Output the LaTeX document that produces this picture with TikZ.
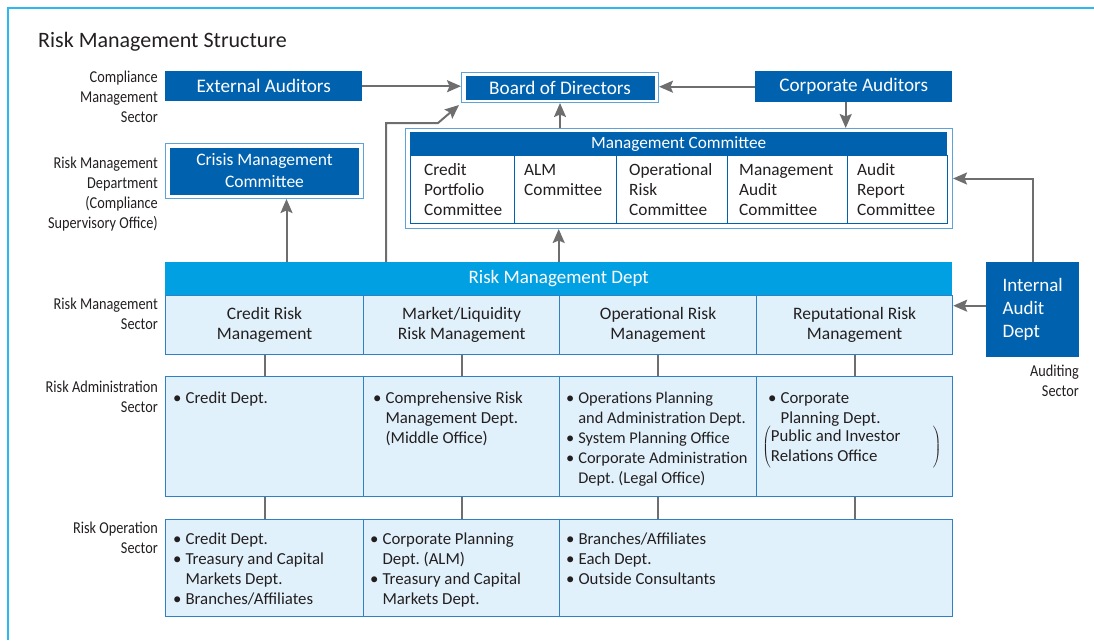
\documentclass[tikz,border=0pt]{standalone}
\usepackage{fontspec}
\setmainfont{Carlito}
\newfontfamily\narrowfont[FakeStretch=0.86]{Carlito}
\usetikzlibrary{arrows.meta,positioning}

\definecolor{darkblue}{HTML}{0062AE}
\definecolor{brightblue}{HTML}{00A0E2}
\definecolor{lightfill}{HTML}{E1F1FB}
\definecolor{cellline}{HTML}{2F80C4}
\definecolor{framelight}{HTML}{5BA3DA}
\definecolor{frameline}{HTML}{2DB8EE}
\definecolor{arrowgray}{HTML}{6E6E6E}
\definecolor{textgray}{HTML}{231F20}

\frenchspacing
% top-aligned text blocks
\newcommand{\blist}[1]{\begin{tabular}[t]{@{}l@{\hspace{4pt}}l@{}}#1\end{tabular}}
\newcommand{\lblock}[1]{\begin{tabular}[t]{@{}l@{}}#1\end{tabular}}
\newcommand{\rblock}[1]{\begin{tabular}[t]{@{}r@{}}#1\end{tabular}}

\tikzset{
  title/.style={anchor=base west, inner sep=0pt, text=textgray, font=\fontsize{22}{26}\selectfont},
  outerframe/.style={draw=framelight, line width=1pt, fill=white, inner sep=0pt, anchor=north west},
  darkbox/.style={fill=darkblue, text=white, inner sep=0pt, align=center, font=\fontsize{19.2}{22}\selectfont},
  headbox/.style={fill=brightblue, text=white, inner sep=0pt, anchor=north west, font=\fontsize{19}{20}\selectfont},
  mccell/.style={draw=darkblue, line width=1.2pt, fill=white, inner sep=0pt, anchor=north west},
  cell/.style={draw=cellline, line width=1.2pt, fill=lightfill, inner sep=0pt, anchor=north west, align=center, text=textgray, font=\fontsize{17.5}{20}\selectfont},
  celltext/.style={anchor=base west, inner sep=0pt, text=textgray, font=\fontsize{16.8}{20}\selectfont},
  sidelabel/.style={anchor=base east, inner sep=0pt, text=textgray, font=\narrowfont\fontsize{16.6}{20}\selectfont},
  link/.style={draw=arrowgray, line width=2pt},
  arr/.style={link, -{Stealth[length=14pt,width=12pt,inset=2.5pt]}}
}

\begin{document}
\begin{tikzpicture}[x=1pt, y=-1pt]
  \useasboundingbox (0,0) rectangle (1094,640);
  % outer frame
  \draw[frameline, line width=1.5pt] (8,640) -- (8,8) -- (1094,8);
  \node[title] (title) at (38,47) {Risk Management Structure};

  % side labels
  \node[sidelabel] (lcomp) at (158,82) {\rblock{Compliance\\Management\\Sector}};
  \node[sidelabel] (lrmd) at (158,168) {\rblock{Risk Management\\Department\\(Compliance\\Supervisory Office)}};
  \node[sidelabel] (lrms) at (158,309) {\rblock{Risk Management\\Sector}};
  \node[sidelabel] (lras) at (158,392) {\rblock{Risk Administration\\Sector}};
  \node[sidelabel] (lros) at (158,533) {\rblock{Risk Operation\\Sector}};
  \node[sidelabel] (laud) at (1079,376) {\rblock{Auditing\\Sector}};

  % top row
  \node[darkbox, anchor=north west, minimum width=197, minimum height=30] (ext) at (165,71) {External Auditors};
  \node[outerframe, minimum width=197, minimum height=30] (bodframe) at (461,72) {};
  \node[darkbox, minimum width=189, minimum height=24] (bod) at (bodframe.center) {Board of Directors};
  \node[darkbox, anchor=north west, minimum width=197, minimum height=31] (corp) at (755,71) {Corporate Auditors};

  % crisis management committee
  \node[outerframe, minimum width=198, minimum height=55] (cmcframe) at (165,143) {};
  \node[darkbox, minimum width=189, minimum height=47, font=\fontsize{17.5}{22}\selectfont] (cmc) at (cmcframe.center) {Crisis Management\\Committee};

  % management committee
  \node[outerframe, minimum width=547, minimum height=100] (mcframe) at (405,128) {};
  \node[darkbox, anchor=north west, minimum width=537, minimum height=23, font=\fontsize{17.2}{20}\selectfont] (mc) at (410,132) {Management Committee};
  \node[mccell, minimum width=104, minimum height=68] (mc1) at (410,155) {};
  \node[mccell, minimum width=102, minimum height=68] (mc2) at (514,155) {};
  \node[mccell, minimum width=111, minimum height=68] (mc3) at (616,155) {};
  \node[mccell, minimum width=120, minimum height=68] (mc4) at (727,155) {};
  \node[mccell, minimum width=100, minimum height=68] (mc5) at (847,155) {};
  \node[celltext, font=\fontsize{17.3}{20}\selectfont] (mct1) at ([shift={(14,20)}]mc1.north west) {\lblock{Credit\\Portfolio\\Committee}};
  \node[celltext, font=\fontsize{17.3}{20}\selectfont] (mct2) at ([shift={(10,20)}]mc2.north west) {\lblock{ALM\\Committee}};
  \node[celltext, font=\fontsize{17.3}{20}\selectfont] (mct3) at ([shift={(13,20)}]mc3.north west) {\lblock{Operational\\Risk\\Committee}};
  \node[celltext, font=\fontsize{17.3}{20}\selectfont] (mct4) at ([shift={(12,20)}]mc4.north west) {\lblock{Management\\Audit\\Committee}};
  \node[celltext, font=\fontsize{17.3}{20}\selectfont] (mct5) at ([shift={(10,20)}]mc5.north west) {\lblock{Audit\\Report\\Committee}};

  % risk management dept
  \node[headbox, minimum width=787, minimum height=33] (rmd) at (165,262) {Risk Management Dept};
  \node[cell, minimum width=198, minimum height=59] (rm1) at (165,295) {Credit Risk\\Management};
  \node[cell, minimum width=196, minimum height=59] (rm2) at (363,295) {Market/Liquidity\\Risk Management};
  \node[cell, minimum width=197, minimum height=59] (rm3) at (559,295) {Operational Risk\\Management};
  \node[cell, minimum width=196, minimum height=59] (rm4) at (756,295) {Reputational Risk\\Management};

  % internal audit
  \node[darkbox, anchor=north west, minimum width=93, minimum height=95, align=left, font=\fontsize{19}{23}\selectfont] (ia) at (986,262) {Internal\\Audit\\Dept};

  % risk administration sector
  \node[cell, minimum width=198, minimum height=120] (ra1) at (165,376) {};
  \node[cell, minimum width=196, minimum height=120] (ra2) at (363,376) {};
  \node[cell, minimum width=197, minimum height=120] (ra3) at (559,376) {};
  \node[cell, minimum width=196, minimum height=120] (ra4) at (756,376) {};
  \node[celltext] (rat1) at ([shift={(8,27)}]ra1.north west) {\blist{\textbullet & Credit Dept.}};
  \node[celltext] (rat2) at ([shift={(10,27)}]ra2.north west) {\blist{\textbullet & Comprehensive Risk\\ & Management Dept.\\ & (Middle Office)}};
  \node[celltext, font=\fontsize{16.4}{20}\selectfont] (rat3) at ([shift={(7,27)}]ra3.north west) {\blist{\textbullet & Operations Planning\\ & and Administration Dept.\\ \textbullet & System Planning Office\\ \textbullet & Corporate Administration\\ & Dept. (Legal Office)}};
  \node[celltext] (rat4) at ([shift={(12,27)}]ra4.north west) {\blist{\textbullet & Corporate\\ & Planning Dept.}};
  \node[celltext, anchor=west] (rat4b) at ([shift={(6,71)}]ra4.north west) {$\left(\begin{tabular}{@{}p{162pt}@{}}Public and Investor\\Relations Office\end{tabular}\right)$};

  % risk operation sector
  \node[cell, minimum width=198, minimum height=97] (ro1) at (165,519) {};
  \node[cell, minimum width=196, minimum height=97] (ro2) at (363,519) {};
  \node[cell, minimum width=393, minimum height=97] (ro3) at (559,519) {};
  \node[celltext] (rot1) at ([shift={(8,25)}]ro1.north west) {\blist{\textbullet & Credit Dept.\\ \textbullet & Treasury and Capital\\ & Markets Dept.\\ \textbullet & Branches/Affiliates}};
  \node[celltext] (rot2) at ([shift={(7,25)}]ro2.north west) {\blist{\textbullet & Corporate Planning\\ & Dept. (ALM)\\ \textbullet & Treasury and Capital\\ & Markets Dept.}};
  \node[celltext] (rot3) at ([shift={(7,25)}]ro3.north west) {\blist{\textbullet & Branches/Affiliates\\ \textbullet & Each Dept.\\ \textbullet & Outside Consultants}};

  % arrows to the board
  \draw[arr] (ext.east) -- (ext.east -| bodframe.west);
  \draw[arr] (corp.west) -- (corp.west -| bodframe.east);
  \draw[arr] (bodframe.south |- mcframe.north) -- (bodframe.south);
  \draw[arr] ([xshift=-8pt]corp.south) -- ([xshift=-8pt]corp.south |- mcframe.north);
  \draw[arr] ([xshift=221pt]rmd.north west) -- ++(0,-139) -- ++(52,0) -- ([shift={(-2,2)}]bodframe.south west);

  % arrows from risk management dept
  \draw[arr] (rmd.north) -- (rmd.north |- mcframe.south);
  \draw[arr] ([xshift=22pt]cmcframe.south |- rmd.north) -- ([xshift=22pt]cmcframe.south);

  % arrows from internal audit
  \draw[arr] (ia.north) |- (mcframe.east);
  \draw[arr] ([yshift=4pt]ia.west) -- ([yshift=4pt]ia.west -| rm4.east);

  % links between sectors
  \draw[link] (rm1.south) -- (ra1.north);
  \draw[link] (rm2.south) -- (ra2.north);
  \draw[link] (rm3.south) -- (ra3.north);
  \draw[link] (rm4.south) -- (ra4.north);
  \draw[link] (ra1.south) -- (ro1.north);
  \draw[link] (ra2.south) -- (ro2.north);
  \draw[link] (ra3.south) -- (ra3.south |- ro3.north);
  \draw[link] (ra4.south) -- (ra4.south |- ro3.north);
\end{tikzpicture}
\end{document}
